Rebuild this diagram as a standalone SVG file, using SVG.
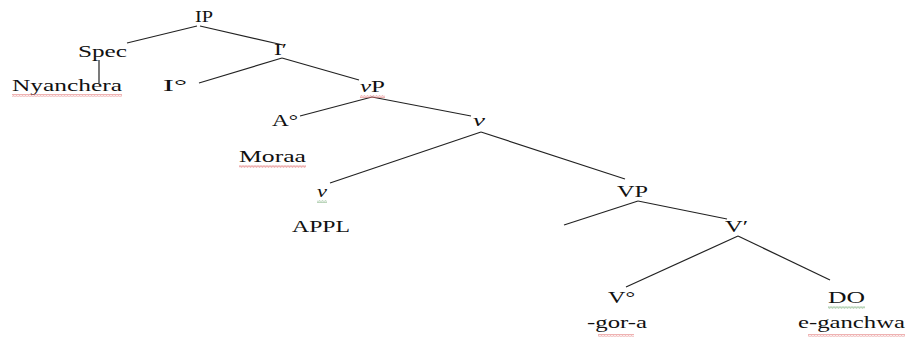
<svg xmlns="http://www.w3.org/2000/svg" width="907" height="343" viewBox="0 0 907 343">
<style>
text{font-family:"Liberation Serif","Times New Roman",serif;font-size:16px;fill:#111}
.e{stroke:#222;stroke-width:1.2;fill:none}
.r{fill:url(#wr)}
.g{fill:url(#wg)}
</style>
<defs>
<pattern id="wr" width="3" height="3" patternUnits="userSpaceOnUse"><path d="M0 2.5 L0.75 0.5 L1.5 2.5 L2.25 0.5 L3 2.5" stroke="#e07070" stroke-width="0.5" fill="none"/></pattern>
<pattern id="wg" width="3" height="3" patternUnits="userSpaceOnUse"><path d="M0 2.5 L0.75 0.5 L1.5 2.5 L2.25 0.5 L3 2.5" stroke="#80b080" stroke-width="0.5" fill="none"/></pattern>
</defs>
<g id="connectors">
<line class="e" x1="197" y1="26" x2="127" y2="43"/>
<line class="e" x1="200" y1="26" x2="283" y2="45"/>
<line class="e" x1="99" y1="60" x2="99" y2="83"/>
<line class="e" x1="282" y1="58" x2="199" y2="83"/>
<line class="e" x1="282" y1="58" x2="359" y2="80"/>
<line class="e" x1="372" y1="97" x2="300" y2="116"/>
<line class="e" x1="372" y1="97" x2="471" y2="116"/>
<line class="e" x1="481" y1="132" x2="330" y2="183"/>
<line class="e" x1="481" y1="132" x2="625" y2="179"/>
<line class="e" x1="638" y1="201" x2="564" y2="225"/>
<line class="e" x1="638" y1="201" x2="727" y2="219"/>
<line class="e" x1="738" y1="236" x2="626" y2="287"/>
<line class="e" x1="738" y1="236" x2="830" y2="280"/>
</g>
<g id="IP"><text x="195" y="22" textLength="18" lengthAdjust="spacingAndGlyphs">IP</text></g>
<g id="Spec"><text x="78" y="57" textLength="49" lengthAdjust="spacingAndGlyphs">Spec</text></g>
<g id="Nyanchera"><text x="12" y="91" textLength="110" lengthAdjust="spacingAndGlyphs">Nyanchera</text><rect class="r" x="12" y="94" width="110" height="3"/></g>
<g id="Ibar"><text x="274" y="55" textLength="13" lengthAdjust="spacingAndGlyphs">I′</text></g>
<g id="I0"><text x="163" y="91" textLength="24" lengthAdjust="spacingAndGlyphs">I°</text></g>
<g id="vP"><text x="360" y="92" textLength="25" lengthAdjust="spacingAndGlyphs"><tspan font-style="italic">v</tspan>P</text><rect class="r" x="360" y="95" width="25" height="3"/></g>
<g id="A0"><text x="272" y="126" textLength="26" lengthAdjust="spacingAndGlyphs">A°</text></g>
<g id="Moraa"><text x="239" y="162" textLength="67" lengthAdjust="spacingAndGlyphs">Moraa</text><rect class="r" x="239" y="165" width="67" height="3"/></g>
<g id="vbar"><text x="473" y="126" textLength="12" lengthAdjust="spacingAndGlyphs" font-style="italic">v</text></g>
<g id="v"><text x="317" y="197" textLength="10" lengthAdjust="spacingAndGlyphs" font-style="italic">v</text><rect class="g" x="317" y="200" width="10" height="3"/></g>
<g id="APPL"><text x="292" y="232" textLength="58" lengthAdjust="spacingAndGlyphs">APPL</text></g>
<g id="VP"><text x="617" y="197" textLength="31" lengthAdjust="spacingAndGlyphs">VP</text></g>
<g id="Vbar"><text x="725" y="232" textLength="23" lengthAdjust="spacingAndGlyphs">V′</text></g>
<g id="V0"><text x="608" y="303" textLength="27" lengthAdjust="spacingAndGlyphs">V°</text></g>
<g id="DO"><text x="828" y="303" textLength="37" lengthAdjust="spacingAndGlyphs">DO</text><rect class="g" x="828" y="306" width="37" height="3"/></g>
<g id="gora"><text x="587" y="328" textLength="60" lengthAdjust="spacingAndGlyphs">-gor-a</text><rect class="r" x="598" y="334" width="36" height="3"/></g>
<g id="eganchwa"><text x="798" y="328" textLength="107" lengthAdjust="spacingAndGlyphs">e-ganchwa</text><rect class="r" x="808" y="334" width="97" height="3"/></g>
</svg>
